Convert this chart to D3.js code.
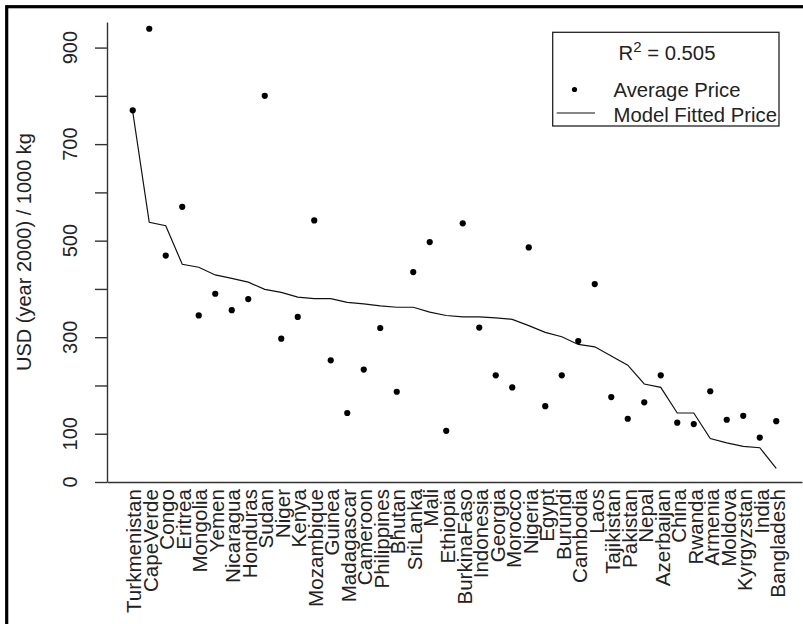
<!DOCTYPE html>
<html>
<head>
<meta charset="utf-8">
<script src="https://cdn.jsdelivr.net/npm/d3@7"></script>
<style>
  html, body { margin: 0; padding: 0; background: #fff; }
  svg { display: block; font-family: "Liberation Sans", Arial, sans-serif; }
</style>
</head>
<body>
<svg id="chart" width="803" height="624"></svg>
<script>
// Countries ordered by model fitted price (highest first)
const countries = [
  "Turkmenistan", "CapeVerde", "Congo", "Eritrea", "Mongolia", "Yemen", "Nicaragua",
  "Honduras", "Sudan", "Niger", "Kenya", "Mozambique", "Guinea", "Madagascar",
  "Cameroon", "Philippines", "Bhutan", "SriLanka", "Mali", "Ethiopia", "BurkinaFaso",
  "Indonesia", "Georgia", "Morocco", "Nigeria", "Egypt", "Burundi", "Cambodia", "Laos",
  "Tajikistan", "Pakistan", "Nepal", "Azerbaijan", "China", "Rwanda", "Armenia",
  "Moldova", "Kyrgyzstan", "India", "Bangladesh"
];

// Average observed price, USD (year 2000) per 1000 kg
const avgPrice = [
  770, 939, 469, 570, 345, 390, 356, 379, 800, 297, 342, 542, 252, 143,
  233, 319, 187, 435, 497, 106, 536, 320, 221, 196, 486, 157, 221, 292, 410,
  176, 131, 165, 221, 123, 120, 188, 129, 137, 92, 126
];

// Model fitted price, same units
const fittedPrice = [
  767, 538, 531, 451, 445, 429, 422, 414, 399, 393, 383, 380, 380, 372,
  369, 365, 362, 362, 352, 345, 342, 342, 340, 337, 324, 310, 301, 285, 280,
  261, 242, 203, 196, 143, 143, 90, 81, 74, 71, 28
];

const yTicks = [0, 100, 200, 300, 400, 500, 600, 700, 800, 900];
const yTickLabels = [0, 100, 300, 500, 700, 900];

const yTitle = "USD (year 2000) / 1000 kg";
const r2Value = "0.505";
const legendLabels = ["Average Price", "Model Fitted Price"];

const svg = d3.select("#chart");
const W = 803, H = 624;
const plot = { left: 107, right: 802, top: 22, bottom: 482 };

// outer frame
svg.append("rect")
  .attr("x", 6.7).attr("y", 6.7)
  .attr("width", W + 20).attr("height", H + 20)
  .attr("fill", "none").attr("stroke", "#000").attr("stroke-width", 3.2);

const n = countries.length;
const pad = 0.04 * (n - 1);
const x = d3.scaleLinear().domain([1 - pad, n + pad]).range([plot.left, plot.right]);
const y = d3.scaleLinear().domain([0, 953]).range([plot.bottom, plot.top]);

const axisColor = "#333";
const textColor = "#222";

// y axis
const yAxis = svg.append("g")
  .attr("transform", `translate(${plot.left},0)`)
  .call(d3.axisLeft(y).tickValues(yTicks).tickSize(12).tickSizeOuter(0).tickFormat(""));
yAxis.selectAll("path, line").attr("stroke", axisColor).attr("stroke-width", 1.4);

svg.append("g").selectAll("text")
  .data(yTickLabels)
  .join("text")
  .attr("transform", d => `translate(77,${y(d)}) rotate(-90)`)
  .attr("text-anchor", "middle")
  .attr("font-size", 20)
  .attr("fill", textColor)
  .text(d => d);

// x axis with rotated country names
const xAxis = svg.append("g")
  .attr("transform", `translate(0,${plot.bottom})`)
  .call(d3.axisBottom(x)
    .tickValues(d3.range(1, n + 1))
    .tickSize(0).tickSizeOuter(0)
    .tickFormat(i => countries[i - 1]));
xAxis.select("path").attr("stroke", axisColor).attr("stroke-width", 1.4);
xAxis.selectAll("text")
  .attr("x", null).attr("y", null).attr("dy", "0.4em")
  .attr("transform", "translate(0,7) rotate(-90)")
  .attr("text-anchor", "end")
  .attr("font-size", 20.6)
  .attr("font-family", "\"Liberation Sans\", Arial, sans-serif")
  .attr("fill", textColor);

// y axis title
svg.append("text")
  .attr("transform", `translate(30.5,${(plot.top + plot.bottom) / 2}) rotate(-90)`)
  .attr("text-anchor", "middle")
  .attr("font-size", 20)
  .attr("fill", textColor)
  .text(yTitle);

// fitted price line
const line = d3.line()
  .x((d, i) => x(i + 1))
  .y(d => y(d));
svg.append("path")
  .datum(fittedPrice)
  .attr("d", line)
  .attr("fill", "none")
  .attr("stroke", "#111")
  .attr("stroke-width", 1.2);

// average price points
svg.append("g").selectAll("circle")
  .data(avgPrice)
  .join("circle")
  .attr("cx", (d, i) => x(i + 1))
  .attr("cy", d => y(d))
  .attr("r", 3.1)
  .attr("fill", "#000");

// legend
const lg = svg.append("g");
lg.append("rect")
  .attr("x", 552.7).attr("y", 32.3)
  .attr("width", 226.3).attr("height", 93.7)
  .attr("fill", "#fff").attr("stroke", "#222").attr("stroke-width", 1.3);

const r2 = lg.append("text")
  .attr("x", 667).attr("y", 60)
  .attr("text-anchor", "middle")
  .attr("font-size", 20.3)
  .attr("fill", textColor);
r2.append("tspan").text("R");
r2.append("tspan").attr("dy", -8).attr("font-size", 15).text("2");
r2.append("tspan").attr("dy", 8).text(" = " + r2Value);

lg.append("circle").attr("cx", 574.5).attr("cy", 89.5).attr("r", 2.6).attr("fill", "#000");
lg.append("line")
  .attr("x1", 556.7).attr("x2", 595).attr("y1", 113).attr("y2", 113)
  .attr("stroke", "#111").attr("stroke-width", 1.2);

lg.selectAll("text.item")
  .data(legendLabels)
  .join("text")
  .attr("class", "item")
  .attr("x", 613.5)
  .attr("y", (d, i) => 96.5 + i * 25)
  .attr("font-size", 20.3)
  .attr("fill", textColor)
  .text(d => d);
</script>
</body>
</html>
